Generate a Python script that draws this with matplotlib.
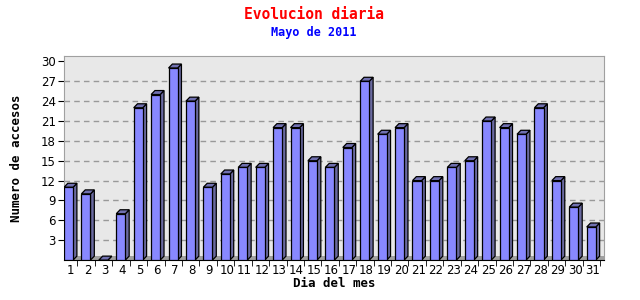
import matplotlib.pyplot as plt
from matplotlib.patches import Polygon

dias = list(range(1, 32))
accesos = [11, 10, 0, 7, 23, 25, 29, 24, 11, 13, 14, 14, 20, 20, 15, 14,
           17, 27, 19, 20, 12, 12, 14, 15, 21, 20, 19, 23, 12, 8, 5]
yticks = [3, 6, 9, 12, 15, 18, 21, 24, 27, 30]

front = '#8888ff'
side = '#6a6aa0'
top = '#7070b0'
dx, dy = 0.22, 0.6   # 3d depth in data units
w = 0.52

fig = plt.figure(figsize=(6.4, 3.0), dpi=100)
ax = fig.add_axes([0.1, 0.133, 0.844, 0.68])
ax.set_xlim(0, 31)
ax.set_ylim(0, 30.8)
ax.set_facecolor('#e8e8e8')

# floor
ax.add_patch(Polygon([(0, 0), (31, 0), (31, dy), (dx, dy)], closed=True,
                     facecolor='#a0a0a0', edgecolor='none', zorder=1))

for y in yticks[:-1]:
    ax.axhline(y, color='#999999', lw=1, ls=(0, (4, 3)), zorder=0.5)

for i, v in enumerate(accesos):
    x0 = i
    ax.add_patch(Polygon([(x0 + w, 0), (x0 + w + dx, dy), (x0 + w + dx, v + dy), (x0 + w, v)],
                         closed=True, facecolor=side, edgecolor='black', lw=0.9, zorder=3))
    ax.add_patch(Polygon([(x0, v), (x0 + dx, v + dy), (x0 + w + dx, v + dy), (x0 + w, v)],
                         closed=True, facecolor=top, edgecolor='black', lw=0.9, zorder=3))
    if v > 0:
        ax.bar(x0, v, width=w, align='edge', color=front, edgecolor='black', lw=0.9, zorder=4)

for s in ['top', 'right', 'left']:
    ax.spines[s].set_color('#a0a0a0')
ax.spines['bottom'].set_color('black')

ax.set_yticks(yticks)
ax.set_yticklabels([str(t) for t in yticks], fontsize=8.5)
ax.set_xticks([i + 0.35 for i in range(31)])
ax.set_xticklabels([str(d) for d in dias], fontsize=8.5)
ax.tick_params(axis='x', length=0, pad=3)
ax.set_xticks([i + 0.77 for i in range(31)], minor=True)
ax.tick_params(axis='x', which='minor', length=4, color='black')
ax.tick_params(axis='y', length=4, pad=2)

ax.set_xlabel('Dia del mes', family='DejaVu Sans Mono', fontweight='bold', fontsize=9, labelpad=0)
ax.set_ylabel('Numero de accesos', family='DejaVu Sans Mono', fontweight='bold', fontsize=9, labelpad=13)

fig.text(0.49, 0.953, 'Evolucion diaria', color='red', family='DejaVu Sans Mono',
         fontweight='bold', fontsize=10.5, ha='center', va='center')
fig.text(0.49, 0.893, 'Mayo de 2011', color='blue', family='DejaVu Sans Mono',
         fontweight='bold', fontsize=8.5, ha='center', va='center')

fig.savefig('out.png')
